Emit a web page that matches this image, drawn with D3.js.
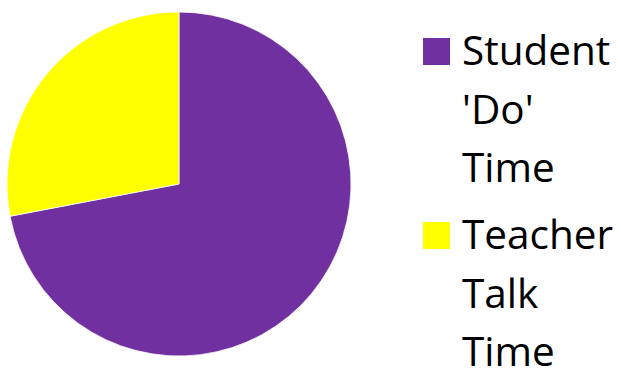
<!DOCTYPE html>
<html>
<head>
<meta charset="utf-8">
<script src="https://cdn.jsdelivr.net/npm/d3@7"></script>
<style>
  body { margin: 0; background: #fff; }
</style>
</head>
<body>
<div id="chart"></div>
<script>
const labels = ["Student 'Do' Time", "Teacher Talk Time"];
const values = [72, 28];
const colors = ["#7030A0", "#FFFF00"];

const width = 621, height = 370;
const cx = 179, cy = 184, radius = 172;

const svg = d3.select("#chart")
    .append("svg")
    .attr("width", width)
    .attr("height", height);

const pie = d3.pie().sort(null).value(d => d);
const arc = d3.arc().innerRadius(0).outerRadius(radius);
const color = d3.scaleOrdinal().domain(labels).range(colors);

const data = values.map((v, i) => ({ label: labels[i], value: v }));

svg.append("g")
    .attr("transform", "translate(" + cx + "," + cy + ")")
    .selectAll("path")
    .data(pie.value(d => d.value)(data))
    .enter()
    .append("path")
    .attr("d", arc)
    .attr("fill", d => color(d.data.label))
    .attr("stroke", "#fff")
    .attr("stroke-width", 0.75);

// legend, one word per line like the original
const lineHeight = 58.5;
const legendTop = [65, 249];

const legend = svg.selectAll(".legend")
    .data(labels)
    .enter()
    .append("g")
    .attr("class", "legend");

legend.append("rect")
    .attr("x", 423)
    .attr("y", (d, i) => legendTop[i] - 27)
    .attr("width", 27)
    .attr("height", 27)
    .attr("fill", d => color(d));

legend.each(function (d, i) {
    const words = d.split(" ");
    d3.select(this).selectAll("text")
        .data(words)
        .enter()
        .append("text")
        .attr("x", 462)
        .attr("y", (w, j) => legendTop[i] + j * lineHeight)
        .style("font-family", "'Open Sans', sans-serif")
        .style("font-size", "40.5px")
        .style("fill", "#000")
        .text(w => w);
});
</script>
</body>
</html>
